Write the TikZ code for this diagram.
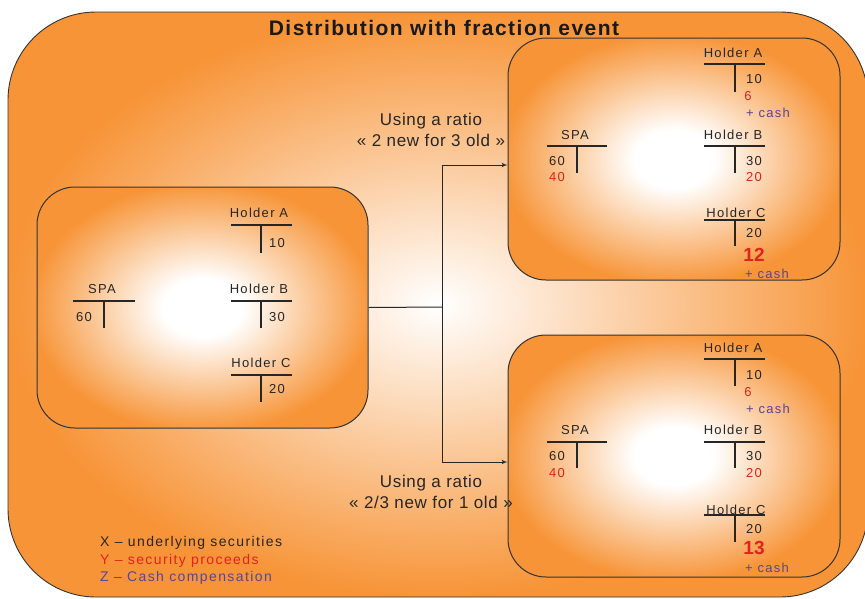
\documentclass[tikz,border=0pt]{standalone}
\usepackage{fontspec}
\setmainfont{Liberation Sans}
\newfontfamily\titlefont[LetterSpace=7]{Liberation Sans}
\newfontfamily\labelfont[LetterSpace=10]{Liberation Sans}
\newfontfamily\ratiofont[LetterSpace=4]{Liberation Sans}
\newfontfamily\legendfont[LetterSpace=10]{Liberation Sans}
\usepackage{tikz}
\usetikzlibrary{arrows, positioning, calc}
\usepackage{xcolor}
\definecolor{boxorange}{RGB}{247,148,55}
\definecolor{numred}{RGB}{225,35,30}
\definecolor{cashblue}{RGB}{85,70,150}
\pgfdeclareradialshading{glow}{\pgfpoint{0bp}{0bp}}{color(0bp)=(white); color(6bp)=(white); color(26bp)=(boxorange); color(50bp)=(boxorange)}

\begin{document}
\begin{tikzpicture}[
    x=1pt, y=-1pt,
    outerbox/.style={rectangle, draw=black!80, line width=0.9pt, rounded corners=88pt, inner color=white, outer color=boxorange},
    box/.style={rectangle, draw=black!80, line width=1pt, rounded corners=38pt, shading=glow},
    lbl/.style={font=\labelfont\fontsize{13}{15}\selectfont, inner sep=0pt, text=black!85},
    cash/.style={lbl, text=cashblue},
    big/.style={font=\fontsize{19}{21}\selectfont\bfseries, inner sep=0pt, text=numred},
    ratio/.style={font=\ratiofont\fontsize{17}{21}\selectfont, align=center, inner sep=0pt, text=black!85},
    legend/.style={font=\legendfont\fontsize{14}{16}\selectfont, anchor=west, inner sep=0pt},
    tline/.style={draw=black!85, line width=1.2pt},
    arrow/.style={-latex', line width=1pt, black!85}
]
    \useasboundingbox (0,0) rectangle (865,598);

    % Frame and title
    \node[outerbox, minimum width=860pt, minimum height=585pt] (frame) at (438,304.5) {};
    \node[font=\titlefont\fontsize{21}{24}\selectfont\bfseries, text=black!90, inner sep=0pt] (title) at (444,28) {Distribution with fraction event};

    % Boxes
    \node[box, minimum width=331pt, minimum height=241pt] (leftbox) at (202.5,307.5) {};
    \node[box, minimum width=332pt, minimum height=242pt] (upbox) at (674,159) {};
    \node[box, minimum width=332pt, minimum height=242pt] (lowbox) at (674,456) {};

    % Connectors
    \coordinate (split) at (442,307);
    \draw[line width=1pt, black!85] (leftbox.east) -- (split);
    \draw[arrow] (split) |- ([yshift=-6pt]upbox.west);
    \draw[arrow] (split) |- ([yshift=-6pt]lowbox.west);

    \node[ratio] (upratio) at (431,129.5) {Using a ratio\\« 2 new for 3 old »};
    \node[ratio] (lowratio) at (431,492) {Using a ratio\\« 2/3 new for 1 old »};

    % Left box
    \node[lbl] (lA) at (259,213) {Holder A};
    \draw[tline] (231,225) -- (292,225) (261,225) -- (261,253);
    \node[lbl] (lA10) at (277,243) {10};
    \node[lbl] (lspa) at (102,289) {SPA};
    \draw[tline] (73,301) -- (135,301) (104,301) -- (104,328);
    \node[lbl] (lspa60) at (84,317) {60};
    \node[lbl] (lB) at (259,289) {Holder B};
    \draw[tline] (231,301) -- (292,301) (261,301) -- (261,328);
    \node[lbl] (lB30) at (277,317) {30};
    \node[lbl] (lC) at (261,363) {Holder C};
    \draw[tline] (231,375) -- (292,375) (261,375) -- (261,402);
    \node[lbl] (lC20) at (277,389) {20};

    % Upper box
    \node[lbl] (uA) at (733,53) {Holder A};
    \draw[tline] (704,64) -- (765,64) (735,64) -- (735,92);
    \node[lbl] (uA10) at (754,79) {10};
    \node[lbl, text=numred] (uA6) at (748,96) {6};
    \node[cash] (uAcash) at (768,113) {+ cash};
    \node[lbl] (uspa) at (575,135) {SPA};
    \draw[tline] (547,146) -- (607,146) (577,146) -- (577,173);
    \node[lbl] (uspa60) at (557,161) {60};
    \node[lbl, text=numred] (uspa40) at (557,177) {40};
    \node[lbl] (uB) at (733,135) {Holder B};
    \draw[tline] (704,146) -- (765,146) (735,146) -- (735,173);
    \node[lbl] (uB30) at (754,161) {30};
    \node[lbl, text=numred] (uB20) at (754,177) {20};
    \node[lbl] (uC) at (736,213) {Holder C};
    \draw[tline] (704,220) -- (765,220) (735,220) -- (735,246);
    \node[lbl] (uC20) at (754,233) {20};
    \node[big] (uC12) at (754,255) {12};
    \node[cash] (uCcash) at (767,274) {+ cash};

    % Lower box
    \node[lbl] (wA) at (733,348) {Holder A};
    \draw[tline] (704,359) -- (765,359) (735,359) -- (735,386);
    \node[lbl] (wA10) at (754,375) {10};
    \node[lbl, text=numred] (wA6) at (748,392) {6};
    \node[cash] (wAcash) at (768,409) {+ cash};
    \node[lbl] (wspa) at (575,430) {SPA};
    \draw[tline] (547,442) -- (607,442) (577,442) -- (577,468);
    \node[lbl] (wspa60) at (557,456) {60};
    \node[lbl, text=numred] (wspa40) at (557,473) {40};
    \node[lbl] (wB) at (733,430) {Holder B};
    \draw[tline] (704,442) -- (765,442) (735,442) -- (735,468);
    \node[lbl] (wB30) at (754,456) {30};
    \node[lbl, text=numred] (wB20) at (754,473) {20};
    \node[lbl] (wC) at (736,510) {Holder C};
    \draw[tline] (704,515) -- (765,515) (735,515) -- (735,542);
    \node[lbl] (wC20) at (754,529) {20};
    \node[big] (wC13) at (754,548) {13};
    \node[cash] (wCcash) at (767,568) {+ cash};

    % Legend
    \node[legend, text=black!85] (legx) at (100,543) {X – underlying securities};
    \node[legend, text=numred, below=4pt of legx.south west, anchor=north west] (legy) {Y – security proceeds};
    \node[legend, text=cashblue, below=4pt of legy.south west, anchor=north west] (legz) {Z – Cash compensation};
\end{tikzpicture}
\end{document}
